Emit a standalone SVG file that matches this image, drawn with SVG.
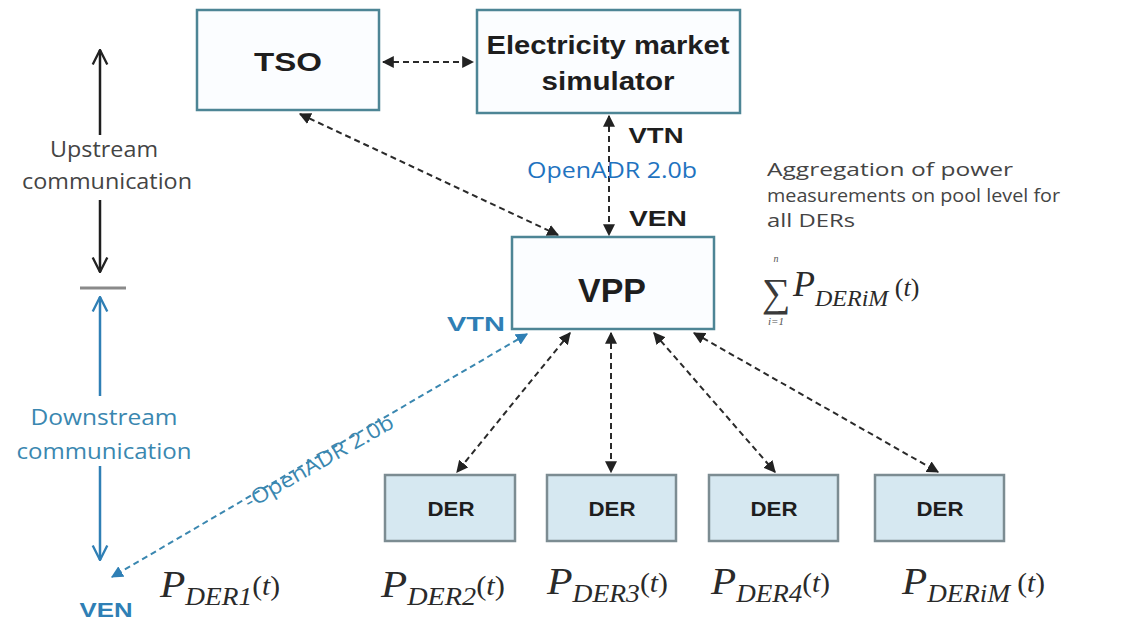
<svg xmlns="http://www.w3.org/2000/svg" width="1130" height="626" viewBox="0 0 1130 626">
<defs>
<marker id="ah" viewBox="0 0 10 10" refX="9" refY="5" markerWidth="6" markerHeight="6" orient="auto-start-reverse" markerUnits="strokeWidth">
<path d="M0,0 L10,5 L0,10 z" fill="#222"/>
</marker>
<marker id="ahb" viewBox="0 0 10 10" refX="9" refY="5" markerWidth="6" markerHeight="6" orient="auto-start-reverse" markerUnits="strokeWidth">
<path d="M0,0 L10,5 L0,10 z" fill="#2f7fb5"/>
</marker>
<marker id="op" viewBox="0 0 12 12" refX="11" refY="6" markerWidth="7" markerHeight="7" orient="auto-start-reverse" markerUnits="strokeWidth">
<path d="M1,1 L11,6 L1,11" fill="none" stroke="#222" stroke-width="1.6"/>
</marker>
<marker id="opb" viewBox="0 0 12 12" refX="11" refY="6" markerWidth="7" markerHeight="7" orient="auto-start-reverse" markerUnits="strokeWidth">
<path d="M1,1 L11,6 L1,11" fill="none" stroke="#2f7fb5" stroke-width="1.6"/>
</marker>
</defs>
<style>
.box{fill:#fbfdff;stroke:#4d8595;stroke-width:2.5}
.der{fill:#d6e8f1;stroke:#7c8c92;stroke-width:2.5}
.lbl{font-family:"Liberation Sans",Arial,sans-serif;font-weight:bold;fill:#1e1e1e;text-anchor:middle}
.gray{font-family:"Open Sans","Liberation Sans",sans-serif;fill:#444444;font-size:21px}
.agg{font-family:"Open Sans","Liberation Sans",sans-serif;fill:#444444;font-size:19px}
.blue{font-family:"Open Sans","Liberation Sans",sans-serif;fill:#3a87b0;font-size:21px}
.math{font-family:"Liberation Serif","Times New Roman",serif;font-style:italic;fill:#2a2a2a}
.up{font-style:normal}
.dash{stroke:#2a2a2a;stroke-width:2;stroke-dasharray:6 4;fill:none}
.dashb{stroke:#3a87b0;stroke-width:2;stroke-dasharray:6 4;fill:none}
</style>
<rect width="1130" height="626" fill="#ffffff"/>

<g id="connectors">
<line class="dash" x1="383" y1="62" x2="473" y2="62" marker-start="url(#ah)" marker-end="url(#ah)"/>
<line class="dash" x1="300" y1="114" x2="558" y2="235" marker-start="url(#ah)" marker-end="url(#ah)"/>
<line class="dash" x1="609" y1="116" x2="609" y2="235" marker-start="url(#ah)" marker-end="url(#ah)"/>
<line class="dashb" x1="527" y1="334" x2="112" y2="577" marker-start="url(#ahb)" marker-end="url(#ahb)"/>
<line class="dash" x1="570" y1="333" x2="457" y2="472" marker-start="url(#ah)" marker-end="url(#ah)"/>
<line class="dash" x1="611" y1="333" x2="611" y2="472" marker-start="url(#ah)" marker-end="url(#ah)"/>
<line class="dash" x1="654" y1="333" x2="775" y2="472" marker-start="url(#ah)" marker-end="url(#ah)"/>
<line class="dash" x1="694" y1="333" x2="938" y2="472" marker-start="url(#ah)" marker-end="url(#ah)"/>
<line x1="100" y1="50" x2="100" y2="135" stroke="#1e1e1e" stroke-width="2.5" marker-start="url(#op)"/>
<line x1="100" y1="200" x2="100" y2="272" stroke="#1e1e1e" stroke-width="2.5" marker-end="url(#op)"/>
<line x1="80" y1="288" x2="126" y2="288" stroke="#8a8a8a" stroke-width="3"/>
<line x1="100" y1="297" x2="100" y2="396" stroke="#2f7fb5" stroke-width="2.5" marker-start="url(#opb)"/>
<line x1="100" y1="466" x2="100" y2="560" stroke="#2f7fb5" stroke-width="2.5" marker-end="url(#opb)"/>
</g>

<g id="tso">
<rect class="box" x="197" y="10" width="182" height="100"/>
<text class="lbl" x="288" y="71" font-size="25" textLength="68" lengthAdjust="spacingAndGlyphs">TSO</text>
</g>
<g id="ems">
<rect class="box" x="477" y="10" width="263" height="103"/>
<text class="lbl" x="608" y="54" font-size="25" textLength="243" lengthAdjust="spacingAndGlyphs">Electricity market</text>
<text class="lbl" x="608" y="90" font-size="25" textLength="133" lengthAdjust="spacingAndGlyphs">simulator</text>
</g>
<g id="vpp">
<rect class="box" x="512" y="237" width="202" height="92"/>
<text class="lbl" x="612" y="302" font-size="33" textLength="68" lengthAdjust="spacingAndGlyphs">VPP</text>
</g>
<g id="der1">
<rect class="der" x="385" y="475" width="130" height="66"/>
<text class="lbl" x="451" y="516" font-size="21" textLength="47" lengthAdjust="spacingAndGlyphs">DER</text>
</g>
<g id="der2">
<rect class="der" x="547" y="475" width="129" height="66"/>
<text class="lbl" x="612" y="516" font-size="21" textLength="47" lengthAdjust="spacingAndGlyphs">DER</text>
</g>
<g id="der3">
<rect class="der" x="709" y="475" width="129" height="66"/>
<text class="lbl" x="774" y="516" font-size="21" textLength="47" lengthAdjust="spacingAndGlyphs">DER</text>
</g>
<g id="der4">
<rect class="der" x="875" y="475" width="129" height="66"/>
<text class="lbl" x="940" y="516" font-size="21" textLength="47" lengthAdjust="spacingAndGlyphs">DER</text>
</g>

<g id="labels">
<text class="lbl" x="656" y="143" font-size="22" textLength="55" lengthAdjust="spacingAndGlyphs">VTN</text>
<text x="612" y="178" font-family="Open Sans, Liberation Sans, sans-serif" font-size="22" fill="#1f73c0" text-anchor="middle" textLength="170" lengthAdjust="spacingAndGlyphs">OpenADR 2.0b</text>
<text class="lbl" x="658" y="226" font-size="22" textLength="58" lengthAdjust="spacingAndGlyphs">VEN</text>
<text class="lbl" x="476" y="331" font-size="21" textLength="58" lengthAdjust="spacingAndGlyphs" style="fill:#2f7fb5">VTN</text>
<text class="lbl" x="106" y="617" font-size="21" textLength="53" lengthAdjust="spacingAndGlyphs" style="fill:#2f7fb5">VEN</text>
<text class="gray" x="104" y="157" text-anchor="middle" textLength="108" lengthAdjust="spacingAndGlyphs">Upstream</text>
<text class="gray" x="107" y="189" text-anchor="middle" textLength="170" lengthAdjust="spacingAndGlyphs">communication</text>
<text class="blue" x="104" y="425" text-anchor="middle" textLength="147" lengthAdjust="spacingAndGlyphs">Downstream</text>
<text class="blue" x="104" y="459" text-anchor="middle" textLength="175" lengthAdjust="spacingAndGlyphs">communication</text>
<text class="blue" x="319" y="469" text-anchor="middle" transform="rotate(-29.5 319 462)" textLength="168" lengthAdjust="spacingAndGlyphs">-OpenADR 2.0b</text>
<text class="agg" x="767" y="176" textLength="246" lengthAdjust="spacingAndGlyphs">Aggregation of power</text>
<text class="agg" x="767" y="202" textLength="293" lengthAdjust="spacingAndGlyphs">measurements on pool level for</text>
<text class="agg" x="767" y="227" textLength="88" lengthAdjust="spacingAndGlyphs">all DERs</text>
<text x="776" y="306" font-family="Liberation Serif, serif" font-size="40" fill="#3a3a3a" text-anchor="middle">∑</text>
<text x="776" y="262" font-family="Liberation Serif, serif" font-style="italic" font-size="10" fill="#555" text-anchor="middle">n</text>
<text x="776" y="325" font-family="Liberation Serif, serif" font-style="italic" font-size="11" fill="#555" text-anchor="middle">i=1</text>
<text class="math" x="793" y="296" font-size="36">P<tspan font-size="24" dy="10">DERiM</tspan><tspan font-size="26" dy="-10" class="up"> (</tspan><tspan font-size="26">t</tspan><tspan font-size="26" class="up">)</tspan></text>
<text class="math" x="160" y="597" font-size="38" textLength="120" lengthAdjust="spacingAndGlyphs">P<tspan font-size="25" dy="8">DER1</tspan><tspan font-size="27" dy="-10" class="up">(</tspan><tspan font-size="27">t</tspan><tspan font-size="27" class="up">)</tspan></text>
<text class="math" x="381" y="597" font-size="38" textLength="124" lengthAdjust="spacingAndGlyphs">P<tspan font-size="25" dy="8">DER2</tspan><tspan font-size="27" dy="-10" class="up">(</tspan><tspan font-size="27">t</tspan><tspan font-size="27" class="up">)</tspan></text>
<text class="math" x="547" y="594" font-size="38" textLength="121" lengthAdjust="spacingAndGlyphs">P<tspan font-size="25" dy="8">DER3</tspan><tspan font-size="27" dy="-10" class="up">(</tspan><tspan font-size="27">t</tspan><tspan font-size="27" class="up">)</tspan></text>
<text class="math" x="711" y="594" font-size="38" textLength="119" lengthAdjust="spacingAndGlyphs">P<tspan font-size="25" dy="8">DER4</tspan><tspan font-size="27" dy="-10" class="up">(</tspan><tspan font-size="27">t</tspan><tspan font-size="27" class="up">)</tspan></text>
<text class="math" x="902" y="594" font-size="38" textLength="143" lengthAdjust="spacingAndGlyphs">P<tspan font-size="25" dy="8">DERiM</tspan><tspan font-size="27" dy="-10" class="up"> (</tspan><tspan font-size="27">t</tspan><tspan font-size="27" class="up">)</tspan></text>
</g>
</svg>
